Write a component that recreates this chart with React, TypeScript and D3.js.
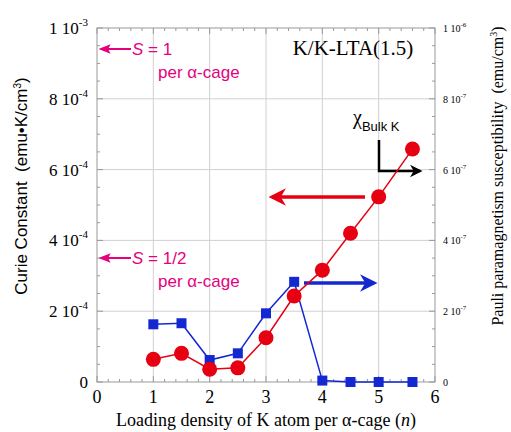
import React from 'react';
import * as d3 from 'd3';

// Loading density n
const loading = [1, 1.5, 2, 2.5, 3, 3.5, 4, 4.5, 5, 5.6];
// Curie constant (emu K / cm^3), left axis
const curie = [0.64e-4, 0.81e-4, 0.36e-4, 0.4e-4, 1.25e-4, 2.43e-4, 3.16e-4, 4.2e-4, 5.23e-4, 6.58e-4];
// Pauli susceptibility (emu / cm^3), right axis
const pauli = [1.63e-7, 1.66e-7, 0.62e-7, 0.81e-7, 1.94e-7, 2.83e-7, 0.04e-7, 0.0, 0.0, 0.0];

const xTicks = [0, 1, 2, 3, 4, 5, 6];
const leftTicks = [0, 2e-4, 4e-4, 6e-4, 8e-4, 1e-3];
const rightTicks = [0, 2e-7, 4e-7, 6e-7, 8e-7, 1e-6];

const W = 511;
const H = 432;
const plot = { left: 97, right: 435, top: 28, bottom: 382 };

const MAGENTA = '#e6007e';
const RED = '#e60012';
const BLUE = '#1428d2';

function sciLabel(v: number) {
  if (v === 0) return { m: '0', e: '' };
  const e = Math.floor(Math.log10(v) + 1e-9);
  const m = Math.round(v / Math.pow(10, e));
  return { m: m + ' 10', e: String(e) };
}

export default function App() {
  const x = d3.scaleLinear().domain([0, 6]).range([plot.left, plot.right]);
  const yL = d3.scaleLinear().domain([0, 1e-3]).range([plot.bottom, plot.top]);
  const yR = d3.scaleLinear().domain([0, 1e-6]).range([plot.bottom, plot.top]);

  const redLine = d3.line<number>().x((_, i) => x(loading[i])).y((d) => yL(d))(curie) || '';
  const blueLine = d3.line<number>().x((_, i) => x(loading[i])).y((d) => yR(d))(pauli) || '';

  const xMinor = d3.range(0, 6.001, 0.2);
  const yMinor = d3.range(0, 1.0001e-3, 5e-5);

  const serif = '"Liberation Serif", "Times New Roman", serif';
  const sans = '"Liberation Sans", Arial, sans-serif';

  return (
    <svg width={W} height={H} style={{ position: 'absolute', left: 0, top: 0, background: '#fff' }}>
      <defs>
        <marker id="ahRed" viewBox="0 0 10 10" refX="8" refY="5" markerWidth="5" markerHeight="5" orient="auto">
          <path d="M0,0 L10,5 L0,10 L3,5 z" fill={RED} />
        </marker>
        <marker id="ahBlue" viewBox="0 0 10 10" refX="8" refY="5" markerWidth="5" markerHeight="5" orient="auto">
          <path d="M0,0 L10,5 L0,10 L3,5 z" fill={BLUE} />
        </marker>
        <marker id="ahBlack" viewBox="0 0 10 10" refX="8" refY="5" markerWidth="5" markerHeight="5" orient="auto">
          <path d="M0,0 L10,5 L0,10 L3,5 z" fill="#000" />
        </marker>
        <marker id="ahMag" viewBox="0 0 10 10" refX="8" refY="5" markerWidth="6" markerHeight="6" orient="auto">
          <path d="M0,1 L10,5 L0,9 L2,5 z" fill={MAGENTA} />
        </marker>
      </defs>

      {/* grid */}
      {xTicks.slice(1, -1).map((t) => (
        <line key={'gx' + t} x1={x(t)} x2={x(t)} y1={plot.top} y2={plot.bottom} stroke="#d0d0d0" strokeWidth={1} />
      ))}
      {leftTicks.slice(1, -1).map((t) => (
        <line key={'gy' + t} x1={plot.left} x2={plot.right} y1={yL(t)} y2={yL(t)} stroke="#d0d0d0" strokeWidth={1} />
      ))}

      {/* minor ticks */}
      {xMinor.map((t, i) => (
        <g key={'xm' + i}>
          <line x1={x(t)} x2={x(t)} y1={plot.bottom} y2={plot.bottom - (i % 5 === 0 ? 6 : 3)} stroke="#999" />
          <line x1={x(t)} x2={x(t)} y1={plot.top} y2={plot.top + (i % 5 === 0 ? 6 : 3)} stroke="#999" />
        </g>
      ))}
      {yMinor.map((t, i) => (
        <g key={'ym' + i}>
          <line x1={plot.left} x2={plot.left + (i % 4 === 0 ? 6 : 3)} y1={yL(t)} y2={yL(t)} stroke="#999" />
          <line x1={plot.right} x2={plot.right - (i % 4 === 0 ? 6 : 3)} y1={yL(t)} y2={yL(t)} stroke="#999" />
        </g>
      ))}

      <rect x={plot.left} y={plot.top} width={plot.right - plot.left} height={plot.bottom - plot.top} fill="none" stroke="#999" strokeWidth={1} />

      {/* x tick labels */}
      {xTicks.map((t) => (
        <text key={'xt' + t} x={x(t)} y={plot.bottom + 21} textAnchor="middle" fontFamily={serif} fontSize={18}>
          {t}
        </text>
      ))}

      {/* left tick labels */}
      {leftTicks.map((t) => {
        const l = sciLabel(t);
        return (
          <text key={'lt' + t} x={88} y={yL(t) + 6} textAnchor="end" fontFamily={serif} fontSize={17}>
            {l.m}
            {l.e && (
              <tspan dy={-8} fontSize={11}>
                {l.e}
              </tspan>
            )}
          </text>
        );
      })}

      {/* right tick labels */}
      {rightTicks.map((t) => {
        const l = sciLabel(t);
        return (
          <text key={'rt' + t} x={443} y={yR(t) + 4} fontFamily={serif} fontSize={10}>
            {l.m}
            {l.e && (
              <tspan dy={-5} fontSize={7}>
                {l.e}
              </tspan>
            )}
          </text>
        );
      })}

      {/* axis titles */}
      <text transform="translate(27,186) rotate(-90)" textAnchor="middle" fontFamily={sans} fontSize={17} style={{ whiteSpace: 'pre' }}>
        {'Curie Constant  (emu•K/cm'}<tspan dy={-6} fontSize={10}>3</tspan><tspan dy={6}>)</tspan>
      </text>
      <text transform="translate(503,176) rotate(-90)" textAnchor="middle" fontFamily={serif} fontSize={16} style={{ whiteSpace: 'pre' }}>
        {'Pauli paramagnetism susceptibility  (emu/cm'}<tspan dy={-6} fontSize={10}>3</tspan><tspan dy={6}>)</tspan>
      </text>
      <text x={(plot.left + plot.right) / 2} y={426} textAnchor="middle" fontFamily={serif} fontSize={18}>
        Loading density of K atom per α-cage (<tspan fontStyle="italic">n</tspan>)
      </text>

      {/* title */}
      <text x={353} y={55} textAnchor="middle" fontFamily={serif} fontSize={21}>
        K/K-LTA(1.5)
      </text>

      {/* S annotations */}
      <line x1={131} x2={101} y1={49} y2={49} stroke={MAGENTA} strokeWidth={2} markerEnd="url(#ahMag)" />
      <text x={132} y={55} fontFamily={sans} fontSize={17} fill={MAGENTA}>
        <tspan fontStyle="italic">S</tspan> = 1
      </text>
      <text x={158} y={78} fontFamily={sans} fontSize={17} fill={MAGENTA}>
        per α-cage
      </text>
      <line x1={131} x2={101} y1={258} y2={258} stroke={MAGENTA} strokeWidth={2} markerEnd="url(#ahMag)" />
      <text x={132} y={264} fontFamily={sans} fontSize={17} fill={MAGENTA}>
        <tspan fontStyle="italic">S</tspan> = 1/2
      </text>
      <text x={158} y={287} fontFamily={sans} fontSize={17} fill={MAGENTA}>
        per α-cage
      </text>

      {/* chi bulk K */}
      <text x={353} y={124} fontFamily={serif} fontSize={20}>
        χ
        <tspan dy={7} fontFamily={sans} fontSize={13}>
          Bulk K
        </tspan>
      </text>
      <path d="M379,140 L379,171 L420,171" fill="none" stroke="#000" strokeWidth={2.5} markerEnd="url(#ahBlack)" />

      {/* direction arrows */}
      <line x1={365} x2={272} y1={197} y2={197} stroke={RED} strokeWidth={3.5} markerEnd="url(#ahRed)" />
      <line x1={304} x2={374} y1={283} y2={283} stroke={BLUE} strokeWidth={3.5} markerEnd="url(#ahBlue)" />

      {/* data */}
      <path d={blueLine} fill="none" stroke={BLUE} strokeWidth={1.5} />
      {pauli.map((v, i) => (
        <rect key={'b' + i} x={x(loading[i]) - 5} y={yR(v) - 5} width={10} height={10} fill={BLUE} />
      ))}
      <path d={redLine} fill="none" stroke={RED} strokeWidth={1.5} />
      {curie.map((v, i) => (
        <circle key={'r' + i} cx={x(loading[i])} cy={yL(v)} r={7.5} fill={RED} />
      ))}
    </svg>
  );
}
